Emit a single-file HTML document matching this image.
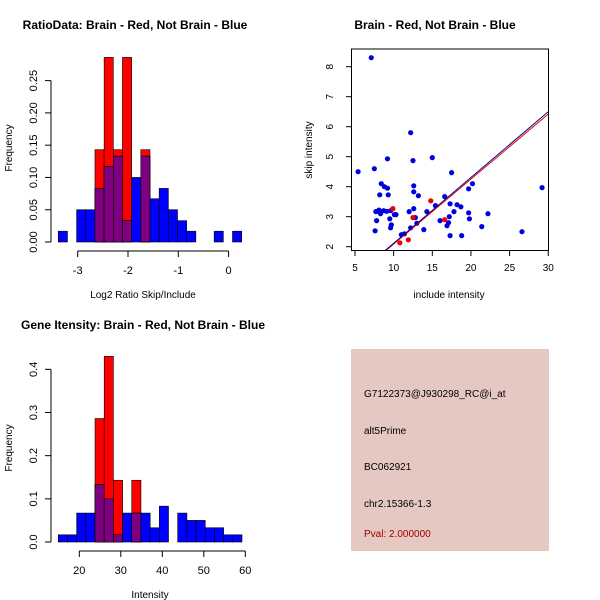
<!DOCTYPE html>
<html><head><meta charset="utf-8"><style>
body{margin:0;background:#fff}
svg{display:block;font-family:"Liberation Sans",sans-serif}
</style></head><body>
<svg id="c" width="600" height="600" xmlns="http://www.w3.org/2000/svg">
<rect width="600" height="600" fill="#fff"/>
<text x="135" y="29" text-anchor="middle" font-size="12" font-weight="bold">RatioData: Brain - Red, Not Brain - Blue</text>
<text x="435" y="29" text-anchor="middle" font-size="12" font-weight="bold">Brain - Red, Not Brain - Blue</text>
<text x="143" y="329" text-anchor="middle" font-size="12" font-weight="bold">Gene Itensity: Brain - Red, Not Brain - Blue</text>
<g id="p1"></g>
<g id="p2"></g>
<g id="p3"></g>
<g>
<rect x="351" y="349" width="198" height="202" fill="#e5c8c2"/>
<text x="364" y="397" font-size="10">G7122373@J930298_RC@i_at</text>
<text x="364" y="434" font-size="10">alt5Prime</text>
<text x="364" y="470" font-size="10">BC062921</text>
<text x="364" y="507" font-size="10">chr2.15366-1.3</text>
<text x="364" y="537" font-size="10" fill="#a00000">Pval: 2.000000</text>
</g>
</svg>
<script>
const NS="http://www.w3.org/2000/svg";
// Ratio histogram data
const h1Start=-3.386, h1Width=0.1823;
const h1Blue=[0.0167,0,0.05,0.05,0.083,0.117,0.133,0.033,0.1,0.133,0.067,0.083,0.05,0.033,0.0167,0,0,0.0167,0,0.0167];
const h1Red=[0,0,0,0,0.143,0.286,0.143,0.286,0,0.143,0,0,0,0,0,0,0,0,0,0];
const h1XTicks=[-3,-2,-1,0];
const h1YTicks=[0,0.05,0.10,0.15,0.20,0.25];
const h1YLabels=["0.00","0.05","0.10","0.15","0.20","0.25"];
// Intensity histogram data
const h2Start=14.94, h2Width=2.213;
const h2Blue=[0.0167,0.0167,0.067,0.067,0.133,0.1,0.0167,0.067,0.067,0.067,0.033,0.083,0,0.067,0.05,0.05,0.033,0.033,0.0167,0.0167];
const h2Red=[0,0,0,0,0.286,0.43,0.143,0,0.143,0,0,0,0,0,0,0,0,0,0,0];
const h2XTicks=[20,30,40,50,60];
const h2YTicks=[0,0.1,0.2,0.3,0.4];
const h2YLabels=["0.0","0.1","0.2","0.3","0.4"];
// Scatter data
const blueX=[7.1,5.4,7.5,8.4,8.8,9.2,9.2,8.2,9.3,7.7,8.1,7.9,8.3,8.7,9.1,9.6,9.5,7.8,7.6,9.7,9.6,10.1,10.3,11.0,11.4,12.2,12.5,12.6,12.6,13.2,12.0,12.6,12.8,13.0,12.2,13.9,14.3,15.0,15.4,16.0,16.6,17.5,17.3,17.8,17.2,16.9,17.1,17.3,18.2,18.7,18.8,19.7,20.2,19.7,19.8,21.4,22.2,26.6,29.2];
const blueY=[8.3,4.5,4.6,4.1,4.0,3.95,4.93,3.73,3.73,3.17,3.22,3.18,3.1,3.2,3.18,3.2,2.93,2.87,2.53,2.73,2.63,3.07,3.07,2.4,2.43,5.8,4.87,4.03,3.83,3.7,3.17,3.27,2.97,2.78,2.63,2.57,3.17,4.97,3.37,2.87,3.67,4.47,3.43,3.17,3.0,2.7,2.8,2.37,3.4,3.33,2.37,3.93,4.1,3.13,2.93,2.67,3.1,2.5,3.97];
const redX=[9.9,14.8,16.6,12.5,10.8,11.9];
const redY=[3.27,3.53,2.9,2.97,2.13,2.23];
const blueLine=[[8.8,1.85],[30,6.5]];
const redLine=[[8.9,1.85],[30,6.42]];
const sXTicks=[5,10,15,20,25,30];
const sYTicks=[2,3,4,5,6,7,8];

function el(p,t,a){const e=document.createElementNS(NS,t);for(const k in a)e.setAttribute(k,a[k]);p.appendChild(e);return e;}
function txt(p,x,y,s,a){const e=el(p,'text',Object.assign({x:x,y:y,'font-size':11},a||{}));e.textContent=s;return e;}

function hist(g,start,w,blue,red,xs,ys,xt,yt,yl,xlab,yAx,xAx){
  for(let i=0;i<blue.length;i++){
    const x0=xs(start+i*w),x1=xs(start+(i+1)*w);
    if(red[i]>0){const r=el(g,'rect',{x:x0,y:ys(red[i]),width:x1-x0,height:ys(0)-ys(red[i]),fill:'#ff0000',stroke:'#000','stroke-width':0.6});
      
      }
    if(blue[i]>0){const b=el(g,'rect',{x:x0,y:ys(blue[i]),width:x1-x0,height:ys(0)-ys(blue[i]),fill:'#0000ff',stroke:'#000','stroke-width':0.6});
      
      }
    const m=Math.min(blue[i],red[i]);
    if(m>0){const q=el(g,'rect',{x:x0,y:ys(m),width:x1-x0,height:ys(0)-ys(m),fill:'#7f007f',stroke:'#000','stroke-width':0.6});
      
      }
  }
  const xa=el(g,'g',{});
  
  
  el(xa,'line',{x1:xs(xt[0]),x2:xs(xt[xt.length-1]),y1:xAx,y2:xAx,stroke:'#000'});
  xt.forEach(v=>{el(xa,'line',{x1:xs(v),x2:xs(v),y1:xAx,y2:xAx+6,stroke:'#000'});txt(xa,xs(v),xAx+23,String(v),{'text-anchor':'middle'});});
  const ya=el(g,'g',{});
  
  
  el(ya,'line',{x1:yAx,x2:yAx,y1:ys(yt[0]),y2:ys(yt[yt.length-1]),stroke:'#000'});
  yt.forEach((v,i)=>{el(ya,'line',{x1:yAx,x2:yAx-6,y1:ys(v),y2:ys(v),stroke:'#000'});txt(ya,yAx-14,ys(v),yl[i],{'text-anchor':'middle',transform:`rotate(-90 ${yAx-14} ${ys(v)})`});});
}
// Panel 1
(function(){
  const g=document.getElementById('p1');
  const xs=v=>128+(v+2)*50.3, ys=v=>242-v*645.5;
  hist(g,h1Start,h1Width,h1Blue,h1Red,xs,ys,h1XTicks,h1YTicks,h1YLabels,'',51,251);
  const a=txt(g,143,298,'Log2 Ratio Skip/Include',{'text-anchor':'middle','font-size':10});
  const b=txt(g,12,148,'Frequency',{'text-anchor':'middle','font-size':10,transform:'rotate(-90 12 148)'});
})();
// Panel 2
(function(){
  const g=document.getElementById('p2');
  const xs=v=>79.3+(v-20)*4.15, ys=v=>542-v*431.7;
  hist(g,h2Start,h2Width,h2Blue,h2Red,xs,ys,h2XTicks,h2YTicks,h2YLabels,'',51,551);
  const a=txt(g,150,598,'Intensity',{'text-anchor':'middle','font-size':10});
  const b=txt(g,12,448,'Frequency',{'text-anchor':'middle','font-size':10,transform:'rotate(-90 12 448)'});
})();
// Panel 3
(function(){
  const g=document.getElementById('p3');
  const xs=v=>355+(v-5)*7.73, ys=v=>246.7-(v-2)*30;
  el(g,'rect',{x:351.5,y:49,width:197,height:201.5,fill:'none',stroke:'#000'});
  const cp=el(g,'clipPath',{id:'sc'});el(cp,'rect',{x:351.5,y:49,width:197,height:201.5});
  const pts=el(g,'g',{'clip-path':'url(#sc)'});
  blueX.forEach((x,i)=>{const c=el(pts,'circle',{cx:xs(x),cy:ys(blueY[i]),r:2.6,fill:'#0000dd'});
    
    });
  redX.forEach((x,i)=>{const c=el(pts,'circle',{cx:xs(x),cy:ys(redY[i]),r:2.6,fill:'#ee0000'});
    
    });
  const rl=el(pts,'line',{x1:xs(redLine[0][0]),y1:ys(redLine[0][1]),x2:xs(redLine[1][0]),y2:ys(redLine[1][1]),stroke:'#ee0000','stroke-width':1});
  
  
  const bl=el(pts,'line',{x1:xs(blueLine[0][0]),y1:ys(blueLine[0][1]),x2:xs(blueLine[1][0]),y2:ys(blueLine[1][1]),stroke:'#000088','stroke-width':1});
  
  
  sXTicks.forEach(v=>{el(g,'line',{x1:xs(v),x2:xs(v),y1:250.5,y2:256,stroke:'#000'});txt(g,xs(v),271,String(v),{'text-anchor':'middle','font-size':10});});
  sYTicks.forEach(v=>{el(g,'line',{x1:351.5,x2:346,y1:ys(v),y2:ys(v),stroke:'#000'});txt(g,333,ys(v),String(v),{'text-anchor':'middle','font-size':10,transform:`rotate(-90 333 ${ys(v)})`});});
  const a=txt(g,449,298,'include intensity',{'text-anchor':'middle','font-size':10});
  const b=txt(g,312,150,'skip intensity',{'text-anchor':'middle','font-size':10,transform:'rotate(-90 312 150)'});
})();
</script>
</body></html>
